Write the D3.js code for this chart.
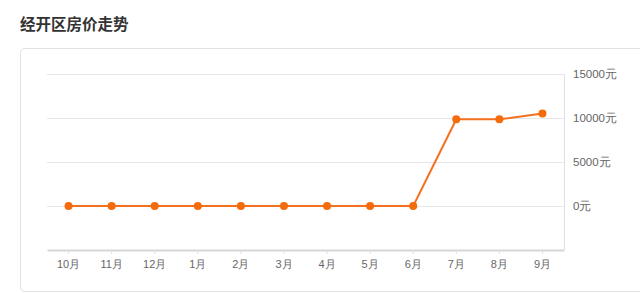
<!DOCTYPE html>
<html>
<head>
<meta charset="utf-8">
<script src="https://cdn.jsdelivr.net/npm/d3@7"></script>
<style>
  html, body { margin: 0; padding: 0; background: #fff; }
  svg { display: block; font-family: "Noto Sans CJK SC", "Noto Sans", sans-serif; }
</style>
</head>
<body>
<div id="chart"></div>
<script>
// data
const months = ['10月', '11月', '12月', '1月', '2月', '3月', '4月', '5月', '6月', '7月', '8月', '9月'];
const prices = [0, 0, 0, 0, 0, 0, 0, 0, 0, 9850, 9850, 10500];
const yTicks = [0, 5000, 10000, 15000];
const title = '经开区房价走势';

const W = 640, H = 293;
const plot = {left: 47, right: 564, top: 74, bottom: 250};

var svg = d3.select('#chart').append('svg')
  .attr('width', W)
  .attr('height', H);

// title
svg.append('text')
  .attr('x', 20)
  .attr('y', 30)
  .attr('fill', '#333')
  .attr('font-size', '15.5px')
  .attr('font-weight', 700)
  .text(title);

// card
svg.append('rect')
  .attr('x', 20.5)
  .attr('y', 48.5)
  .attr('width', 640)
  .attr('height', 243)
  .attr('rx', 4)
  .attr('fill', '#fff')
  .attr('stroke', '#e2e2e2');

var x = d3.scaleBand()
  .domain(months)
  .range([plot.left, plot.right]);

var y = d3.scaleLinear()
  .domain([-5000, 15000])
  .range([plot.bottom, plot.top]);

// gridlines
svg.append('g')
  .selectAll('line')
  .data(yTicks)
  .join('line')
    .attr('x1', plot.left)
    .attr('x2', plot.right)
    .attr('y1', d => Math.round(y(d)) + 0.5)
    .attr('y2', d => Math.round(y(d)) + 0.5)
    .attr('stroke', '#e6e6e6');

// right edge line
svg.append('line')
  .attr('x1', plot.right + 0.5)
  .attr('x2', plot.right + 0.5)
  .attr('y1', plot.top)
  .attr('y2', plot.bottom)
  .attr('stroke', '#e0e0e0');

// y labels on the right
var yAxis = svg.append('g')
  .attr('transform', 'translate(' + plot.right + ',0)')
  .call(d3.axisRight(y).tickValues(yTicks).tickSize(0).tickPadding(9).tickFormat(d => d + '元'));
yAxis.select('.domain').remove();
yAxis.selectAll('text')
  .attr('fill', '#666')
  .attr('font-size', '11.5px');

// x axis
var xAxis = svg.append('g')
  .attr('transform', 'translate(0,' + plot.bottom + ')')
  .call(d3.axisBottom(x).tickSize(4).tickSizeOuter(0).tickPadding(6));
xAxis.select('.domain')
  .attr('stroke', '#d6d6d6')
  .attr('stroke-width', 2);
xAxis.selectAll('.tick line').attr('stroke', '#e0e0e0');
xAxis.selectAll('text')
  .attr('fill', '#666')
  .attr('font-size', '11px');

// price line
var line = d3.line()
  .x((d, i) => x(months[i]) + x.bandwidth() / 2)
  .y(d => y(d));

svg.append('path')
  .datum(prices)
  .attr('d', line)
  .attr('fill', 'none')
  .attr('stroke', '#f5701e')
  .attr('stroke-width', 2);

svg.append('g')
  .selectAll('circle')
  .data(prices)
  .join('circle')
    .attr('cx', (d, i) => x(months[i]) + x.bandwidth() / 2)
    .attr('cy', d => y(d))
    .attr('r', 4)
    .attr('fill', '#f56a0a');
</script>
</body>
</html>
